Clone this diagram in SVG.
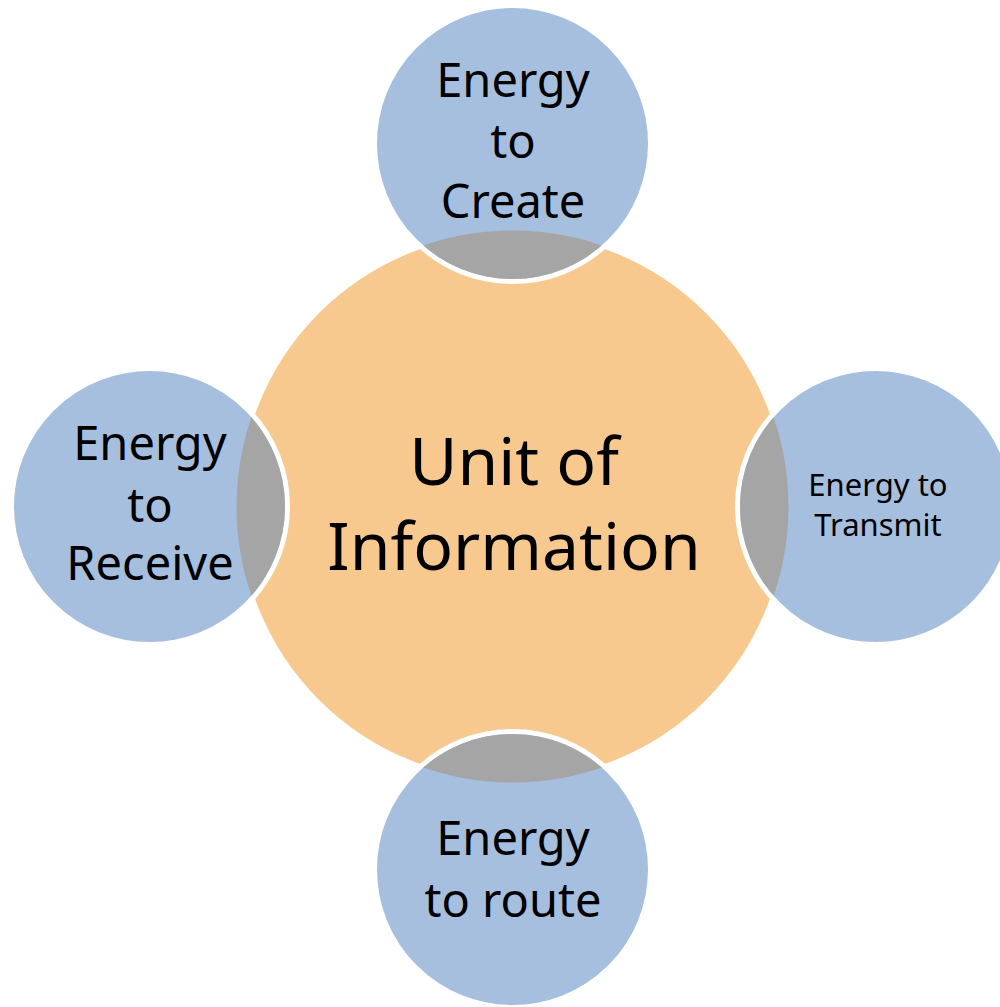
<svg xmlns="http://www.w3.org/2000/svg" width="1000" height="1007" viewBox="0 0 1000 1007">
  <style>
    .hub { fill: #F7C98F; stroke: #FFFFFF; stroke-width: 5; }
    .sat { fill: #A7BFDE; stroke: #FFFFFF; stroke-width: 5; }
    .lens { fill: #A5A5A5; stroke: none; }
    text { font-family: "Noto Sans", "Open Sans", sans-serif; fill: #000000; text-anchor: middle; }
    .big { font-size: 66px; }
    .mid { font-size: 47px; }
    .small { font-size: 31px; }
  </style>
  <defs>
    <!-- inner areas of the satellite circles, used to cut the overlap lenses -->
    <clipPath id="clipTop"><circle cx="512.5" cy="143.5" r="135.5"/></clipPath>
    <clipPath id="clipBottom"><circle cx="512.5" cy="869.5" r="135.5"/></clipPath>
    <clipPath id="clipLeft"><circle cx="149.5" cy="506.5" r="135.5"/></clipPath>
    <clipPath id="clipRight"><circle cx="875.5" cy="506.5" r="135.5"/></clipPath>
  </defs>

  <rect width="1000" height="1007" fill="#FFFFFF"/>

  <g id="unit-of-information">
    <circle class="hub" cx="512.5" cy="506.5" r="276"/>
    <text class="big" x="514" y="485">Unit of</text>
    <text class="big" x="514" y="570">Information</text>
  </g>

  <g id="energy-to-create">
    <circle class="sat" cx="512.5" cy="143.5" r="138"/>
    <circle class="lens" cx="512.5" cy="506.5" r="276" clip-path="url(#clipTop)"/>
    <text class="mid" x="513" y="97">Energy</text>
    <text class="mid" x="513" y="158">to</text>
    <text class="mid" x="513" y="218">Create</text>
  </g>

  <g id="energy-to-transmit">
    <circle class="sat" cx="875.5" cy="506.5" r="138"/>
    <circle class="lens" cx="512.5" cy="506.5" r="276" clip-path="url(#clipRight)"/>
    <text class="small" x="878" y="496">Energy to</text>
    <text class="small" x="878" y="536">Transmit</text>
  </g>

  <g id="energy-to-route">
    <circle class="sat" cx="512.5" cy="869.5" r="138"/>
    <circle class="lens" cx="512.5" cy="506.5" r="276" clip-path="url(#clipBottom)"/>
    <text class="mid" x="513" y="855">Energy</text>
    <text class="mid" x="513" y="917">to route</text>
  </g>

  <g id="energy-to-receive">
    <circle class="sat" cx="149.5" cy="506.5" r="138"/>
    <circle class="lens" cx="512.5" cy="506.5" r="276" clip-path="url(#clipLeft)"/>
    <text class="mid" x="150" y="460">Energy</text>
    <text class="mid" x="150" y="522">to</text>
    <text class="mid" x="150" y="580">Receive</text>
  </g>

  <g id="connectors"/>
</svg>
